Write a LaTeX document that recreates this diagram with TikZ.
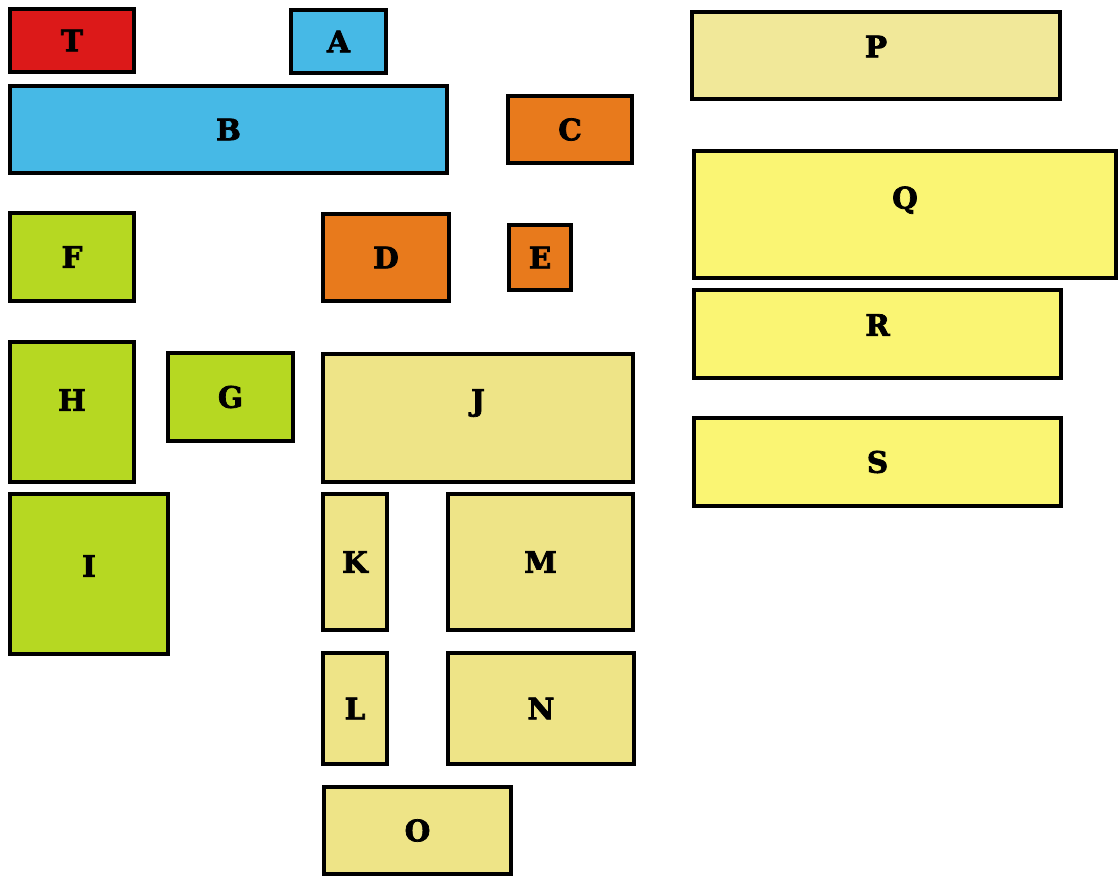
\documentclass[tikz,border=0pt]{standalone}
\usepackage{xcolor}
\usepackage{tikz}
\usepackage{fontspec}
\newfontfamily\roomfont{DejaVu Serif}[BoldFeatures={FakeBold=2.5}]
\definecolor{servicecolor}{RGB}{220, 25, 25}
\definecolor{hallcolor}{RGB}{70, 185, 230}
\definecolor{officecolor}{RGB}{232, 122, 28}
\definecolor{gardencolor}{RGB}{182, 216, 34}
\definecolor{sandcolor}{RGB}{238, 228, 135}
\definecolor{lemoncolor}{RGB}{250, 245, 115}
\usetikzlibrary{positioning}

\begin{document}
\begin{tikzpicture}[
    x=0.025cm, y=-0.025cm,
    room/.style={rectangle, draw, line width=2.6pt, align=center, font=\roomfont\bfseries\fontsize{21}{24}\selectfont},
    lift/.style={text depth=#1}
]
    \useasboundingbox (0,0) rectangle (1120,876);

    % Top row
    \node[room, fill=servicecolor, minimum width=3.1cm, minimum height=1.575cm] (T) at (72, 40.5) {T};
    \node[room, fill=hallcolor, minimum width=2.375cm, minimum height=1.575cm] (A) at (338.5, 41.5) {A};
    \node[room, fill=hallcolor, minimum width=10.925cm, minimum height=2.175cm] (B) at (228.5, 129.5) {B};
    \node[room, fill=officecolor, minimum width=3.1cm, minimum height=1.675cm] (C) at (570, 129.5) {C};

    % Middle
    \node[room, fill=gardencolor, minimum width=3.1cm, minimum height=2.2cm] (F) at (72, 257) {F};
    \node[room, fill=officecolor, minimum width=3.15cm, minimum height=2.175cm] (D) at (386, 257.5) {D};
    \node[room, fill=officecolor, minimum width=1.55cm, minimum height=1.625cm] (E) at (540, 257.5) {E};
    \node[room, lift=0.6cm, fill=gardencolor, minimum width=3.1cm, minimum height=3.5cm] (H) at (72, 412) {H};
    \node[room, fill=gardencolor, minimum width=3.125cm, minimum height=2.2cm] (G) at (230.5, 397) {G};
    \node[room, lift=0.4cm, fill=gardencolor, minimum width=3.95cm, minimum height=4cm] (I) at (89, 574) {I};

    % Lower block
    \node[room, lift=0.9cm, fill=sandcolor, minimum width=7.75cm, minimum height=3.2cm] (J) at (478, 418) {J};
    \node[room, fill=sandcolor, minimum width=1.6cm, minimum height=3.4cm] (K) at (355, 562) {K};
    \node[room, fill=sandcolor, minimum width=4.625cm, minimum height=3.4cm] (M) at (540.5, 562) {M};
    \node[room, fill=sandcolor, minimum width=1.6cm, minimum height=2.775cm] (L) at (355, 708.5) {L};
    \node[room, fill=sandcolor, minimum width=4.65cm, minimum height=2.775cm] (N) at (541, 708.5) {N};
    \node[room, fill=sandcolor, minimum width=4.675cm, minimum height=2.175cm] (O) at (417.5, 830.5) {O};

    % Right column
    \node[room, lift=0.45cm, fill=sandcolor!85!white, minimum width=9.2cm, minimum height=2.175cm] (P) at (876, 55.5) {P};
    \node[room, lift=0.85cm, fill=lemoncolor, minimum width=10.55cm, minimum height=3.175cm] (Q) at (905, 214.5) {Q};
    \node[room, lift=0.45cm, fill=lemoncolor, minimum width=9.175cm, minimum height=2.2cm] (R) at (877.5, 334) {R};
    \node[room, fill=lemoncolor, minimum width=9.175cm, minimum height=2.2cm] (S) at (877.5, 462) {S};
\end{tikzpicture}
\end{document}
